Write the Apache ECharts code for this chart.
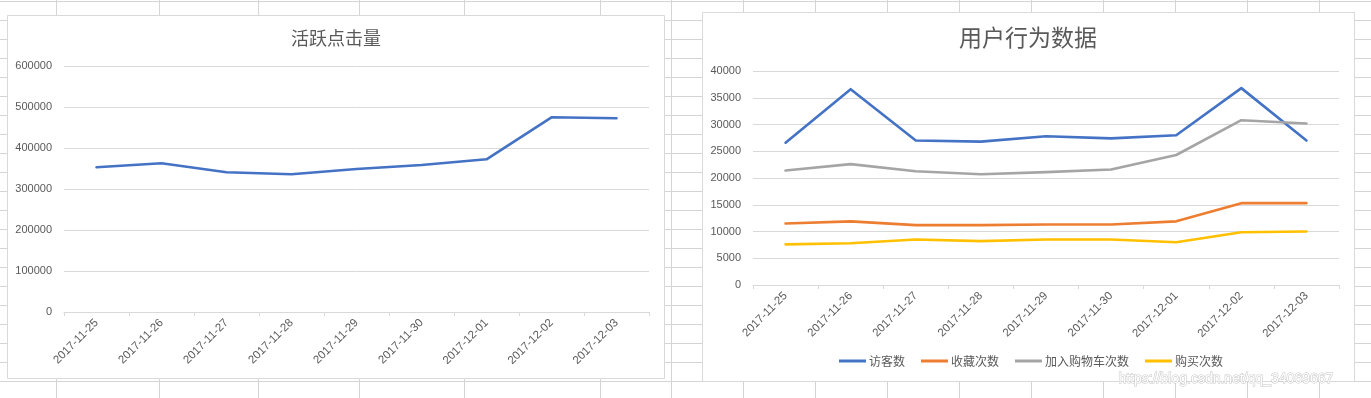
<!DOCTYPE html>
<html>
<head>
<meta charset="utf-8">
<script src="https://cdn.jsdelivr.net/npm/echarts@6/dist/echarts.min.js"></script>
<style>
html,body{margin:0;padding:0;width:1371px;height:398px;overflow:hidden;background:#fff;}
#sheet{position:absolute;left:0;top:0;width:1371px;height:398px;
  background-image:repeating-linear-gradient(to bottom,#d4d4d4 0,#d4d4d4 1px,transparent 1px,transparent 19px);
  background-position:0 1px;}
.col{position:absolute;top:0;width:1px;height:398px;background:#d4d4d4;}
#chart{position:absolute;left:0;top:0;width:1371px;height:398px;}
</style>
</head>
<body>
<div id="sheet"></div>
<div id="chart"></div>
<script>
// ---- data ----
const dates = ['2017-11-25','2017-11-26','2017-11-27','2017-11-28','2017-11-29','2017-11-30','2017-12-01','2017-12-02','2017-12-03'];
const activeClicks = [353000, 362700, 340700, 335900, 348800, 358500, 372400, 474900, 472400];
const visitors  = [26600, 36600, 27000, 26800, 27800, 27400, 28000, 36800, 27000];
const favorites = [11500, 11900, 11200, 11200, 11300, 11300, 11900, 15300, 15300];
const addCart   = [21400, 22600, 21250, 20700, 21100, 21600, 24300, 30800, 30200];
const purchases = [7600, 7800, 8500, 8200, 8500, 8500, 8000, 9850, 10000];
const seriesNames = ['访客数','收藏次数','加入购物车次数','购买次数'];
const leftTitle = '活跃点击量';
const rightTitle = '用户行为数据';
const watermark = 'https://blog.csdn.net/qq_34069667';

// spreadsheet column lines (background decoration)
const sheetCols = [56,159,258,359,464,600,671,743,815,887,959,1031,1103,1175,1247,1319];
const sheet = document.getElementById('sheet');
sheetCols.forEach(x => { const d = document.createElement('div'); d.className='col'; d.style.left = x+'px'; sheet.appendChild(d); });

const FONT = '"Liberation Sans", "Noto Sans CJK SC", sans-serif';
const CJK = '"Noto Sans CJK SC", sans-serif';
const TXT = '#595959';
const GRIDC = '#d9d9d9';
const colors = ['#4472C4','#ED7D31','#A5A5A5','#FFC000'];

function xAxis(gi){
  return {
    type:'category', gridIndex:gi, data:dates, boundaryGap:true,
    axisLine:{show:true,lineStyle:{color:GRIDC,width:1}},
    axisTick:{show:true,length:4,lineStyle:{color:GRIDC}},
    axisLabel:{rotate:45,margin:9,fontSize:11.5,color:TXT,fontFamily:FONT,interval:0},
    splitLine:{show:false}
  };
}
function yAxis(gi,max,interval){
  return {
    type:'value', gridIndex:gi, min:0, max:max, interval:interval,
    axisLine:{show:false}, axisTick:{show:false},
    axisLabel:{margin:12,fontSize:11,color:TXT,fontFamily:FONT,formatter:v => String(v)},
    splitLine:{show:true,lineStyle:{color:GRIDC,width:1}}
  };
}
function lineSeries(name,data,color,xi,yi){
  return {name:name,type:'line',data:data,xAxisIndex:xi,yAxisIndex:yi,
    symbol:'none',smooth:false,lineStyle:{width:2.6,color:color,cap:'round',join:'round'},
    itemStyle:{color:color},emphasis:{disabled:true}};
}

const chart = echarts.init(document.getElementById('chart'), null, {renderer:'canvas'});
chart.setOption({
  backgroundColor:'transparent',
  animation:false,
  graphic:[
    {type:'rect',z:-10,shape:{x:7.5,y:15.5,width:657,height:363},style:{fill:'#fff',stroke:'#d9d9d9',lineWidth:1}},
    {type:'rect',z:-10,shape:{x:702.5,y:12.5,width:652,height:369},style:{fill:'#fff',stroke:'#d9d9d9',lineWidth:1}},
    {type:'text',z:100,left:1118,top:372,style:{text:watermark,fill:'#ffffff',stroke:'#c4c4c4',lineWidth:1,font:'14px "Liberation Sans", sans-serif'}}
  ],
  title:[
    {text:leftTitle,left:331,top:24,textAlign:'center',textStyle:{fontSize:18,fontWeight:'normal',color:TXT,fontFamily:CJK}},
    {text:rightTitle,left:1023,top:21,textAlign:'center',textStyle:{fontSize:23,fontWeight:'normal',color:TXT,fontFamily:CJK}}
  ],
  legend:{
    data:seriesNames, left:839, top:355, padding:0, itemWidth:27, itemHeight:3, itemGap:16, icon:'rect',
    textStyle:{fontSize:12,color:TXT,fontFamily:CJK,padding:[0,0,0,-2]}
  },
  grid:[
    {left:64,right:1371-649,top:66,bottom:398-312,containLabel:false},
    {left:753,right:1371-1339,top:71,bottom:398-285,containLabel:false}
  ],
  xAxis:[xAxis(0),xAxis(1)],
  yAxis:[yAxis(0,600000,100000),yAxis(1,40000,5000)],
  series:[
    lineSeries('活跃点击量',activeClicks,colors[0],0,0),
    lineSeries(seriesNames[0],visitors,colors[0],1,1),
    lineSeries(seriesNames[1],favorites,colors[1],1,1),
    lineSeries(seriesNames[2],addCart,colors[2],1,1),
    lineSeries(seriesNames[3],purchases,colors[3],1,1)
  ]
});
</script>
</body>
</html>
